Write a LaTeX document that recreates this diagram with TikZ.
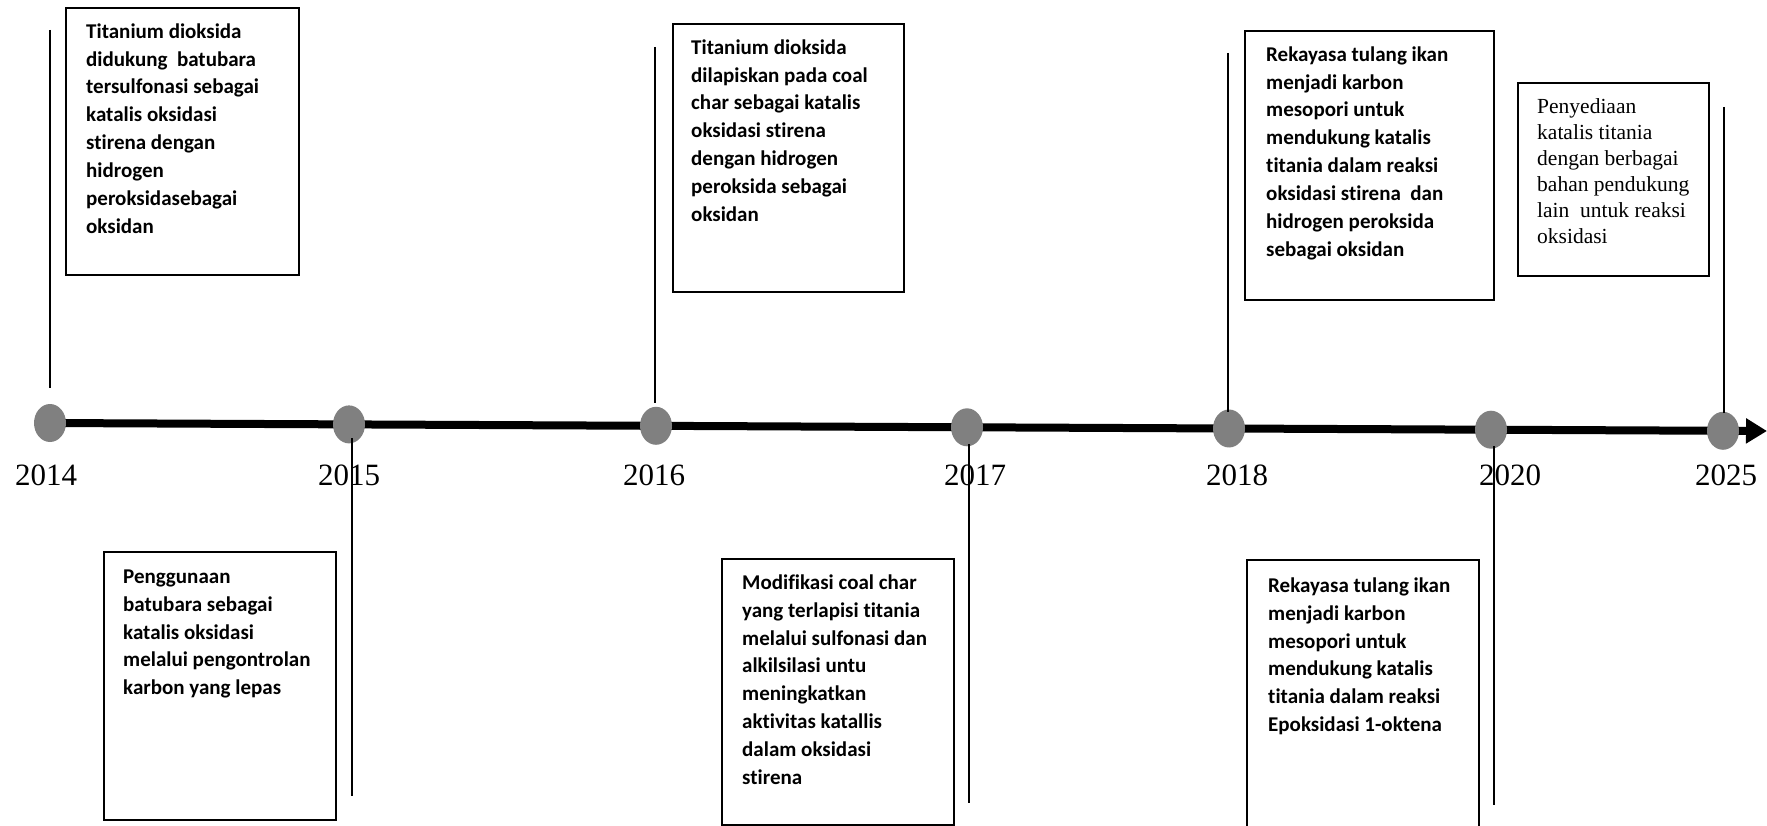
\documentclass[tikz,border=0pt]{standalone}
\usepackage{fontspec}
\setmainfont{Liberation Serif}
\newfontfamily\calib[Ligatures=NoCommon]{Carlito}
\usetikzlibrary{shapes.geometric,arrows.meta,backgrounds}
\definecolor{dotgray}{RGB}{128,128,128}
\begin{document}
\begin{tikzpicture}[x=1pt,y=-1pt,
  dot/.style={ellipse,fill=dotgray,draw=none,minimum width=32pt,minimum height=38pt,inner sep=0pt},
  box/.style={draw,line width=2pt,anchor=north west,inner sep=0pt},
  txt/.style={anchor=north west,inner sep=0pt,align=left,font=\calib\bfseries\fontsize{21}{27.9}\selectfont},
  stxt/.style={anchor=north west,inner sep=0pt,align=left,font=\fontsize{21.5}{26}\selectfont},
  year/.style={anchor=base,inner sep=0pt,font=\fontsize{31}{36}\selectfont},
  stem/.style={line width=1.8pt}]
\useasboundingbox (0,0) rectangle (1767,826);

% dots on the timeline
\node[dot] (d2014) at (50,423) {};
\node[dot] (d2015) at (349,424.4) {};
\node[dot] (d2016) at (656,425.8) {};
\node[dot] (d2017) at (967,427.3) {};
\node[dot] (d2018) at (1229,428.5) {};
\node[dot] (d2020) at (1491,429.7) {};
\node[dot] (d2025) at (1723,430.8) {};
\coordinate (tip) at (1767,431);
\begin{pgfonlayer}{background}
\draw[line width=8pt,-{Triangle[length=21pt,width=24pt]}] (d2014.center) -- (tip);
\end{pgfonlayer}

% year labels
\node[year] (y2014) at (46,485) {2014};
\node[year] (y2015) at (349,485) {2015};
\node[year] (y2016) at (654,485) {2016};
\node[year] (y2017) at (975,485) {2017};
\node[year] (y2018) at (1237,485) {2018};
\node[year] (y2020) at (1510,485) {2020};
\node[year] (y2025) at (1726,485) {2025};

% boxes
\node[box,minimum width=233pt,minimum height=267pt] (b1) at (65,7) {};
\node[box,minimum width=232pt,minimum height=268pt] (b2) at (103,551) {};
\node[box,minimum width=231pt,minimum height=268pt] (b3) at (672,23) {};
\node[box,minimum width=232pt,minimum height=266pt] (b4) at (721,558) {};
\node[box,minimum width=249pt,minimum height=269pt] (b5) at (1244,30) {};
\node[box,minimum width=232pt,minimum height=280pt] (b6) at (1246,559) {};
\node[box,minimum width=191pt,minimum height=193pt] (b7) at (1517,82) {};

% texts
\node[txt] (t1) at (86,23) {\rule{0pt}{15pt}Titanium dioksida\\didukung\ \ batubara\\tersulfonasi sebagai\\katalis oksidasi\\stirena dengan\\hidrogen\\peroksidasebagai\\oksidan};
\node[txt] (t2) at (123,568) {\rule{0pt}{15pt}Penggunaan\\batubara sebagai\\katalis oksidasi\\melalui pengontrolan\\karbon yang lepas};
\node[txt] (t3) at (691,39) {\rule{0pt}{15pt}Titanium dioksida\\dilapiskan pada coal\\char sebagai katalis\\oksidasi stirena\\dengan hidrogen\\peroksida sebagai\\oksidan};
\node[txt] (t4) at (742,574) {\rule{0pt}{15pt}Modifikasi coal char\\yang terlapisi titania\\melalui sulfonasi dan\\alkilsilasi untu\\meningkatkan\\aktivitas katallis\\dalam oksidasi\\stirena};
\node[txt] (t5) at (1266,46) {\rule{0pt}{15pt}Rekayasa tulang ikan\\menjadi karbon\\mesopori untuk\\mendukung katalis\\titania dalam reaksi\\oksidasi stirena\ \ dan\\hidrogen peroksida\\sebagai oksidan};
\node[txt] (t6) at (1268,577) {\rule{0pt}{15pt}Rekayasa tulang ikan\\menjadi karbon\\mesopori untuk\\mendukung katalis\\titania dalam reaksi\\Epoksidasi 1-oktena};
\node[stxt] (t7) at (1537,98) {\rule{0pt}{15pt}Penyediaan\\katalis titania\\dengan berbagai\\bahan pendukung\\lain\ \ untuk reaksi\\oksidasi};

% stems
\coordinate (s1a) at (50,30);   \coordinate (s1b) at (50,388);
\coordinate (s2a) at (352,438); \coordinate (s2b) at (352,796);
\coordinate (s3a) at (655,47);  \coordinate (s3b) at (655,403);
\coordinate (s4a) at (969,444); \coordinate (s4b) at (969,803);
\coordinate (s5a) at (1228,53); \coordinate (s5b) at (1228,412);
\coordinate (s6a) at (1494,446);\coordinate (s6b) at (1494,805);
\coordinate (s7a) at (1724,107);\coordinate (s7b) at (1724,413);
\draw[stem] (s1a) -- (s1b);
\draw[stem] (s2a) -- (s2b);
\draw[stem] (s3a) -- (s3b);
\draw[stem] (s4a) -- (s4b);
\draw[stem] (s5a) -- (s5b);
\draw[stem] (s6a) -- (s6b);
\draw[stem] (s7a) -- (s7b);
\end{tikzpicture}
\end{document}
